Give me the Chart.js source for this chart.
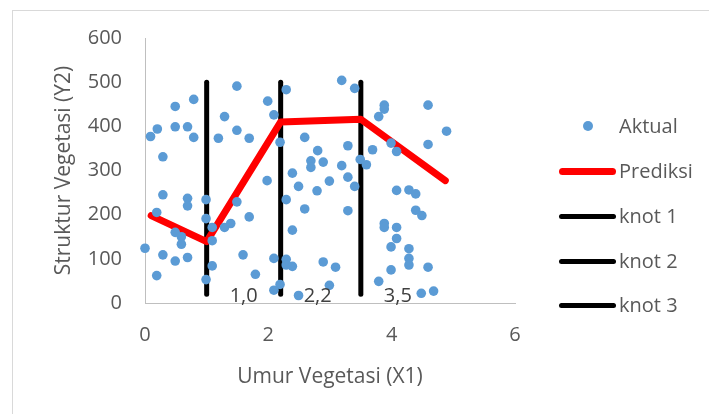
<!DOCTYPE html>
<html>
<head>
  <title>Struktur Vegetasi vs Umur Vegetasi</title>
  <script src="https://cdn.jsdelivr.net/npm/chart.js"></script>
  <style>
    body {
      margin: 0;
      background-color: white;
      font-family: "Open Sans", sans-serif;
    }

    .wrap {
      position: relative;
      width: 709px;
      height: 414px;
      overflow: hidden;
    }

    .frame {
      position: absolute;
      left: 12px;
      top: 10px;
      width: 800px;
      height: 500px;
      border: 1px solid #d9d9d9;
    }

    .legend-item {
      position: absolute;
      left: 619px;
      height: 24px;
      line-height: 24px;
      font-size: 20px;
      color: #595959;
    }

    .swatch {
      position: absolute;
    }
  </style>
</head>
<body>
  <div class="wrap">
    <div class="frame"></div>
    <canvas id="knotChart"></canvas>
    <div id="legend"></div>
  </div>

  <script>
    // data aktual
    const aktualX = [0.09, 0.20, 0.29, 0.49, 0.49, 0.69, 0.79, 0.79, 1.19, 1.29,
                     1.49, 1.49, 1.69, 1.99, 2.09, 2.29, 2.19, 2.59, 2.80, 2.69,
                     2.89, 2.69, 2.39, 3.19, 3.40, 3.29, 3.19, 3.49, 3.59, 3.69,
                     3.79, 3.88, 3.88, 3.99, 4.08, 4.59, 4.89, 4.59, 0.00, 0.19,
                     0.29, 0.69, 0.69, 0.99, 0.99, 0.49, 0.59, 0.59, 0.29, 0.49,
                     0.69, 0.19, 1.09, 1.09, 1.09, 0.99, 1.29, 1.39, 1.49, 1.69,
                     1.59, 1.79, 1.98, 2.09, 2.49, 2.79, 2.99, 3.29, 3.40, 2.29,
                     2.59, 3.29, 2.39, 2.29, 2.29, 2.39, 2.89, 3.09, 2.99, 2.19,
                     2.09, 2.49, 3.79, 3.88, 3.88, 4.08, 4.08, 4.08, 3.99, 3.99,
                     4.28, 4.39, 4.39, 4.49, 4.28, 4.28, 4.28, 4.59, 4.48, 4.68];
    const aktualY = [377, 394, 331, 445, 399, 399, 461, 375, 373, 422,
                     491, 391, 373, 457, 426, 483, 364, 375, 345, 322,
                     319, 307, 294, 504, 486, 356, 311, 325, 313, 347,
                     422, 448, 439, 362, 343, 448, 389, 359, 124, 205,
                     245, 237, 220, 234, 191, 160, 150, 133, 109, 95,
                     103, 62, 171, 141, 84, 53, 171, 180, 229, 195,
                     109, 65, 277, 101, 264, 254, 276, 285, 264, 234,
                     213, 209, 165, 99, 86, 83, 93, 81, 40, 42,
                     29, 17, 49, 180, 171, 255, 171, 146, 127, 75,
                     256, 247, 210, 198, 123, 101, 86, 81, 22, 27];

    // garis prediksi
    const prediksiX = [0.1, 1.0, 2.2, 3.5, 4.87];
    const prediksiY = [198, 139, 410, 416, 277];

    // knot
    const knotX = [1.0, 2.2, 3.5];
    const knotLabels = ['1,0', '2,2', '3,5'];
    const knotBawah = 20;
    const knotAtas = 500;

    const legendNames = ['Aktual', 'Prediksi', 'knot 1', 'knot 2', 'knot 3'];

    const toPoints = (xs, ys) => xs.map((x, i) => ({ x: x, y: ys[i] }));

    const knotSets = knotX.map((k, i) => ({
      label: legendNames[i + 2],
      data: [{ x: k, y: knotBawah }, { x: k, y: knotAtas }],
      showLine: true,
      borderColor: '#000000',
      borderWidth: 5,
      borderCapStyle: 'round',
      pointRadius: 0
    }));

    // label angka knot di samping bawah garis
    const knotLabelPlugin = {
      id: 'knotLabels',
      afterDatasetsDraw(chart) {
        const ctx = chart.ctx;
        const xs = chart.scales.x;
        const ys = chart.scales.y;
        ctx.save();
        ctx.font = '20px "Open Sans"';
        ctx.fillStyle = '#404040';
        ctx.textAlign = 'left';
        ctx.textBaseline = 'middle';
        knotX.forEach((k, i) => {
          ctx.fillText(knotLabels[i], xs.getPixelForValue(k) + 23, ys.getPixelForValue(knotBawah) + 2);
        });
        ctx.restore();
      }
    };

    const ctx = document.getElementById('knotChart').getContext('2d');

    const chart = new Chart(ctx, {
      type: 'scatter',
      data: {
        datasets: [
          {
            label: legendNames[0],
            data: toPoints(aktualX, aktualY),
            backgroundColor: '#5B9BD5',
            borderWidth: 0,
            pointRadius: 4.8,
            clip: false
          },
          {
            label: legendNames[1],
            data: toPoints(prediksiX, prediksiY),
            showLine: true,
            borderColor: '#FF0000',
            borderWidth: 7,
            borderCapStyle: 'round',
            borderJoinStyle: 'round',
            pointRadius: 0
          },
          ...knotSets
        ]
      },
      options: {
        responsive: true,
        maintainAspectRatio: false,
        animation: false,
        layout: {
          padding: { left: 0, top: 38, right: 194, bottom: 0 }
        },
        plugins: {
          legend: { display: false },
          tooltip: { enabled: false }
        },
        scales: {
          x: {
            type: 'linear',
            min: 0,
            max: 6,
            afterFit: function(scale) { scale.height = 111; },
            grid: { display: false, drawTicks: false },
            border: { display: true, color: '#BFBFBF', width: 1 },
            ticks: {
              stepSize: 2,
              padding: 20,
              color: '#595959',
              font: { family: 'Open Sans', size: 20 }
            },
            title: {
              display: true,
              text: 'Umur Vegetasi (X1)',
              color: '#595959',
              font: { family: 'Open Sans', size: 21 },
              padding: { top: 0, bottom: 24 }
            }
          },
          y: {
            type: 'linear',
            min: 0,
            max: 600,
            afterFit: function(scale) { scale.width = 145; },
            grid: { display: false, drawTicks: false },
            border: { display: true, color: '#BFBFBF', width: 1 },
            ticks: {
              stepSize: 100,
              padding: 23,
              color: '#595959',
              font: { family: 'Open Sans', size: 20 }
            },
            title: {
              display: true,
              text: 'Struktur Vegetasi (Y2)',
              color: '#595959',
              font: { family: 'Open Sans', size: 21 },
              padding: { top: 51, bottom: 0 }
            }
          }
        }
      },
      plugins: [knotLabelPlugin]
    });

    // legenda di kanan
    const legendY = [126, 171, 216, 261, 305];
    const legendBox = document.getElementById('legend');
    legendNames.forEach((name, i) => {
      const sw = document.createElement('div');
      sw.className = 'swatch';
      if (i === 0) {
        sw.style.left = '583px';
        sw.style.top = (legendY[i] - 5) + 'px';
        sw.style.width = '10px';
        sw.style.height = '10px';
        sw.style.borderRadius = '50%';
        sw.style.background = '#5B9BD5';
      } else {
        const h = i === 1 ? 7 : 5;
        sw.style.left = '559px';
        sw.style.top = (legendY[i] - h / 2) + 'px';
        sw.style.width = '57px';
        sw.style.height = h + 'px';
        sw.style.borderRadius = (h / 2) + 'px';
        sw.style.background = i === 1 ? '#FF0000' : '#000000';
      }
      legendBox.appendChild(sw);

      const t = document.createElement('div');
      t.className = 'legend-item';
      t.style.top = (legendY[i] - 12) + 'px';
      t.textContent = name;
      legendBox.appendChild(t);
    });
  </script>
</body>
</html>
